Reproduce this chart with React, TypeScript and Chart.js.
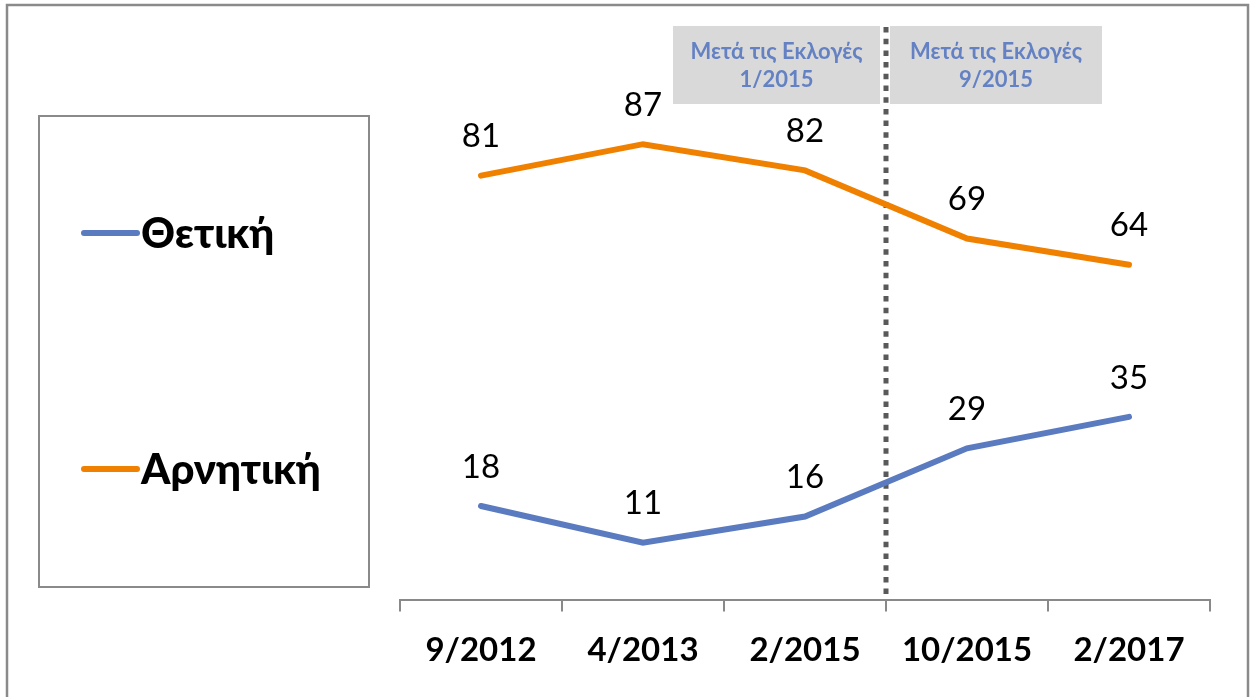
import React, { useEffect, useRef } from "react";
import { Chart, registerables } from "chart.js";

Chart.register(...registerables);

const categories = ["9/2012", "4/2013", "2/2015", "10/2015", "2/2017"];
const positiveValues = [18, 11, 16, 29, 35];
const negativeValues = [81, 87, 82, 69, 64];
const seriesNames = ["Θετική", "Αρνητική"];
const seriesColors = ["#5B7BC0", "#F08000"];
const annotationTexts = [
  ["Μετά τις Εκλογές", "1/2015"],
  ["Μετά τις Εκλογές", "9/2015"],
];
const electionDividerIndex = 2.5;
const yMin = 0;
const yMax = 100;

const FONT = "Lato, 'Noto Sans', sans-serif";

const decorPlugin = {
  id: "decor",
  beforeDatasetsDraw(chart: any) {
    const ctx = chart.ctx;
    const xScale = chart.scales.x;
    const dx = xScale.getPixelForValue(electionDividerIndex);
    const axisY = chart.chartArea.bottom;
    ctx.save();
    const boxes = [
      [dx - 213, dx - 6],
      [dx + 4, dx + 216],
    ];
    boxes.forEach((b, i) => {
      ctx.fillStyle = "#D9D9D9";
      ctx.fillRect(b[0], 26, b[1] - b[0], 78);
      ctx.fillStyle = "#6482C3";
      ctx.font = `bold 22px ${FONT}`;
      ctx.textAlign = "center";
      ctx.textBaseline = "middle";
      const cx = (b[0] + b[1]) / 2;
      ctx.fillText(annotationTexts[i][0], cx, 52);
      ctx.fillText(annotationTexts[i][1], cx, 80);
    });
    ctx.strokeStyle = "#595959";
    ctx.lineWidth = 5;
    ctx.setLineDash([5.5, 6.2]);
    ctx.beginPath();
    ctx.moveTo(dx, 27);
    ctx.lineTo(dx, axisY - 2);
    ctx.stroke();
    ctx.setLineDash([]);
    ctx.restore();
  },
  afterDraw(chart: any) {
    const ctx = chart.ctx;
    ctx.save();
    ctx.strokeStyle = "#8A8A8A";
    ctx.lineWidth = 2.5;
    ctx.strokeRect(7, 5, 1241, 720);
    ctx.lineWidth = 2;
    ctx.strokeRect(39, 116, 330, 471);
    const legendY = [233, 469];
    chart.data.datasets.forEach((ds: any, i: number) => {
      ctx.strokeStyle = ds.borderColor;
      ctx.lineWidth = 6;
      ctx.lineCap = "round";
      ctx.beginPath();
      ctx.moveTo(84, legendY[i]);
      ctx.lineTo(137, legendY[i]);
      ctx.stroke();
      ctx.fillStyle = "#000";
      ctx.font = `900 42px ${FONT}`;
      ctx.textAlign = "left";
      ctx.textBaseline = "middle";
      ctx.fillText(ds.label, 141, legendY[i] + 1);
    });
    ctx.font = `33px ${FONT}`;
    ctx.textAlign = "center";
    ctx.textBaseline = "middle";
    ctx.fillStyle = "#000";
    chart.data.datasets.forEach((ds: any, i: number) => {
      const meta = chart.getDatasetMeta(i);
      meta.data.forEach((pt: any, j: number) => {
        ctx.fillText(String(ds.data[j]), pt.x, pt.y - 39);
      });
    });
    ctx.restore();
  },
};

export default function App() {
  const ref = useRef<HTMLCanvasElement>(null);
  useEffect(() => {
    document.body.style.margin = "0";
    const chart = new Chart(ref.current as HTMLCanvasElement, {
      type: "line",
      data: {
        labels: categories,
        datasets: [
          {
            label: seriesNames[0],
            data: positiveValues,
            borderColor: seriesColors[0],
            backgroundColor: seriesColors[0],
            borderWidth: 6,
            pointRadius: 0,
            borderCapStyle: "round",
            tension: 0,
          },
          {
            label: seriesNames[1],
            data: negativeValues,
            borderColor: seriesColors[1],
            backgroundColor: seriesColors[1],
            borderWidth: 6,
            pointRadius: 0,
            borderCapStyle: "round",
            tension: 0,
          },
        ],
      },
      options: {
        animation: false,
        responsive: false,
        layout: { padding: { left: 400, right: 43, top: 76, bottom: 8 } },
        plugins: { legend: { display: false }, tooltip: { enabled: false } },
        scales: {
          x: {
            type: "category",
            offset: true,
            grid: {
              display: true,
              drawOnChartArea: false,
              drawTicks: true,
              tickLength: 11,
              offset: true,
              color: "#898989",
              lineWidth: 2,
            },
            border: { display: true, color: "#898989", width: 2 },
            ticks: {
              color: "#000",
              font: { family: FONT, size: 33, weight: "bold" },
              padding: 19,
              maxRotation: 0,
              autoSkip: false,
            },
          },
          y: { display: false, min: yMin, max: yMax },
        },
      },
      plugins: [decorPlugin],
    } as any);
    return () => chart.destroy();
  }, []);
  return <canvas ref={ref} width={1253} height={697} style={{ display: "block" }} />;
}
